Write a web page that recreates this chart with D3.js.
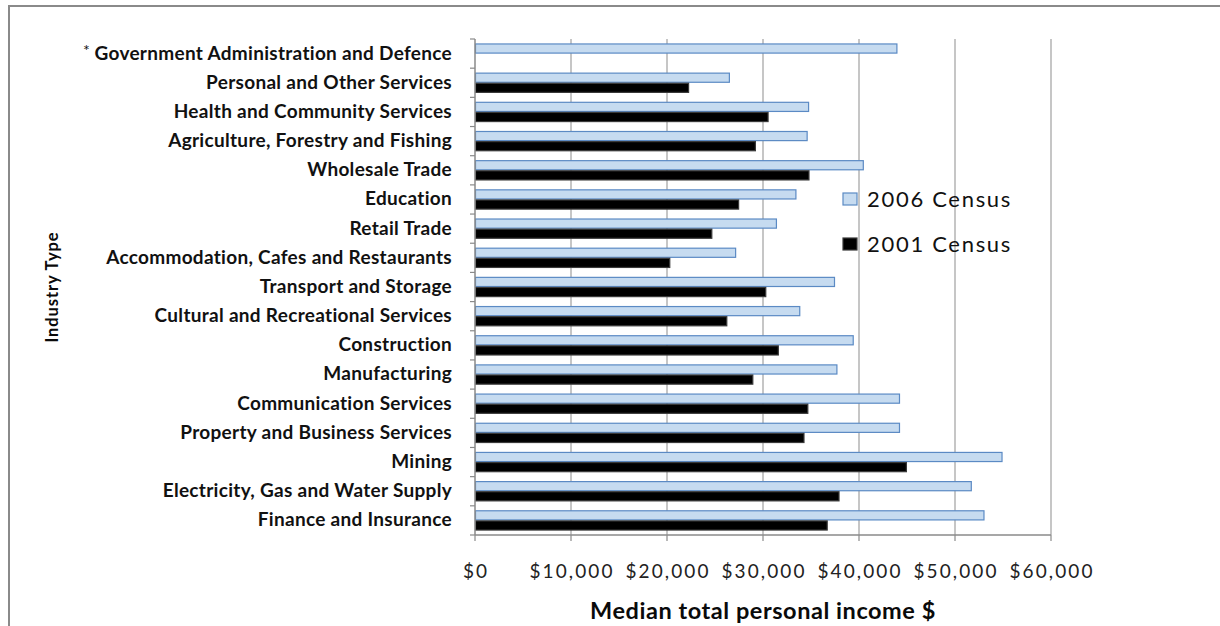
<!DOCTYPE html>
<html>
<head>
<meta charset="utf-8">
<script src="https://cdn.jsdelivr.net/npm/d3@7"></script>
<style>
  html, body { margin: 0; padding: 0; background: #fff; }
  svg { display: block; }
</style>
</head>
<body>
<svg id="chart" width="1220" height="626"></svg>
<script>
const categories = [
  "Government Administration and Defence",
  "Personal and Other Services",
  "Health and Community Services",
  "Agriculture, Forestry and Fishing",
  "Wholesale Trade",
  "Education",
  "Retail Trade",
  "Accommodation, Cafes and Restaurants",
  "Transport and Storage",
  "Cultural and Recreational Services",
  "Construction",
  "Manufacturing",
  "Communication Services",
  "Property and Business Services",
  "Mining",
  "Electricity, Gas and Water Supply",
  "Finance and Insurance"
];
const census2006 = [44000, 26550, 34800, 34650, 40500, 33480, 31450, 27200, 37500, 33880, 39450, 37750, 44270, 44270, 54950, 51750, 53070];
const census2001 = [null, 22300, 30580, 29260, 34840, 27510, 24720, 20340, 30340, 26280, 31650, 28990, 34720, 34320, 44990, 37970, 36740];
const seriesNames = ["2006 Census", "2001 Census"];
const xTicks = [0, 10000, 20000, 30000, 40000, 50000, 60000];

(function () {
const svg = d3.select("#chart");
const pLeft = 475, pRight = 1051, pTop = 39, pBottom = 535;
const FONT = "Lato, 'Open Sans', sans-serif";

// frame
svg.append("rect").attr("x", 9).attr("y", 6).attr("width", 1230).attr("height", 640)
  .attr("fill", "none").attr("stroke", "#8a8a8a").attr("stroke-width", 2);

const x = d3.scaleLinear().domain([0, 60000]).range([pLeft, pRight]);
const y = d3.scaleBand().domain(categories).range([pTop, pBottom]).paddingInner(0).paddingOuter(0);
const ys = d3.scaleBand().domain(seriesNames).range([0, y.bandwidth()]).paddingInner(0).paddingOuter(0.44);

// gridlines
svg.append("g").selectAll("line").data(xTicks.slice(1)).join("line")
  .attr("x1", d => x(d)).attr("x2", d => x(d))
  .attr("y1", pTop).attr("y2", pBottom)
  .attr("stroke", "#b3b3b3").attr("stroke-width", 1.5);

// bars
const rows = categories.map((c, i) => ({c, v: [census2006[i], census2001[i]]}));
const fills = {"2006 Census": "#c6dbf0", "2001 Census": "#000000"};
const strokes = {"2006 Census": "#5b8ac4", "2001 Census": "#3a3a3a"};
const g = svg.append("g");
rows.forEach(r => {
  seriesNames.forEach((s, j) => {
    const v = r.v[j];
    if (v == null) return;
    g.append("rect")
      .attr("x", x(0) + 0.5)
      .attr("y", y(r.c) + ys(s) + 0.5)
      .attr("width", x(v) - x(0) - 1)
      .attr("height", ys.bandwidth() - 1)
      .attr("fill", fills[s]).attr("stroke", strokes[s]).attr("stroke-width", 1.2);
  });
});

// y axis
const yAxis = svg.append("g").attr("transform", `translate(${pLeft},0)`);
yAxis.append("line").attr("x1", 0).attr("x2", 0).attr("y1", pTop).attr("y2", pBottom)
  .attr("stroke", "#8a8a8a").attr("stroke-width", 1.5);
const yBounds = categories.map(c => y(c)).concat([pBottom]);
yAxis.selectAll("line.tk").data(yBounds).join("line").attr("class", "tk")
  .attr("x1", -5).attr("x2", 0).attr("y1", d => d).attr("y2", d => d)
  .attr("stroke", "#8a8a8a").attr("stroke-width", 1.2);

const labels = svg.append("g");
categories.forEach((c, i) => {
  const t = labels.append("text")
    .attr("x", 452).attr("y", y(c) + y.bandwidth() / 2 + 1)
    .attr("text-anchor", "end").attr("dominant-baseline", "middle")
    .attr("font-family", FONT)
    .attr("font-weight", 700).attr("font-size", 19).attr("letter-spacing", 0.3).attr("fill", "#111");
  if (i === 0) {
    t.append("tspan").attr("font-size", 16).attr("font-weight", 400).attr("dy", -3).text("* ");
    t.append("tspan").attr("dy", 3).text(c);
  } else {
    t.text(c);
  }
});

// x axis
const xAxis = svg.append("g");
xAxis.append("line").attr("x1", pLeft).attr("x2", pRight).attr("y1", pBottom).attr("y2", pBottom)
  .attr("stroke", "#8a8a8a").attr("stroke-width", 1.5);
xAxis.selectAll("line.tk").data(xTicks).join("line").attr("class", "tk")
  .attr("x1", d => x(d)).attr("x2", d => x(d)).attr("y1", pBottom).attr("y2", pBottom + 6)
  .attr("stroke", "#8a8a8a").attr("stroke-width", 1.2);
const fmt = d => "$" + d3.format(",")(d);
xAxis.selectAll("text").data(xTicks).join("text")
  .attr("x", d => x(d) + 1).attr("y", 578)
  .attr("text-anchor", "middle")
  .attr("font-family", FONT)
  .attr("font-size", 19).attr("letter-spacing", 2.1).attr("fill", "#222")
  .text(fmt);

// axis titles
svg.append("text").attr("x", 763).attr("y", 619).attr("text-anchor", "middle")
  .attr("font-family", FONT).attr("font-weight", 700)
  .attr("font-size", 23.5).attr("letter-spacing", 0.55).attr("fill", "#0a0a0a").text("Median total personal income $");
svg.append("text").attr("transform", "translate(58,287) rotate(-90)").attr("text-anchor", "middle")
  .attr("font-family", FONT).attr("font-weight", 700)
  .attr("font-size", 16.5).attr("letter-spacing", 0.9).attr("fill", "#0a0a0a").text("Industry Type");

// legend
const legend = svg.append("g");
const legendY = [199, 244];
seriesNames.forEach((s, i) => {
  legend.append("rect").attr("x", 843).attr("y", legendY[i] - 6).attr("width", 14).attr("height", 12)
    .attr("fill", fills[s]).attr("stroke", strokes[s]).attr("stroke-width", 1.2);
  legend.append("text").attr("x", 867).attr("y", legendY[i] + 2)
    .attr("dominant-baseline", "middle")
    .attr("font-family", FONT)
    .attr("font-size", 22).attr("letter-spacing", 1.7).attr("fill", "#111").text(s);
});
})();
</script>
</body>
</html>
